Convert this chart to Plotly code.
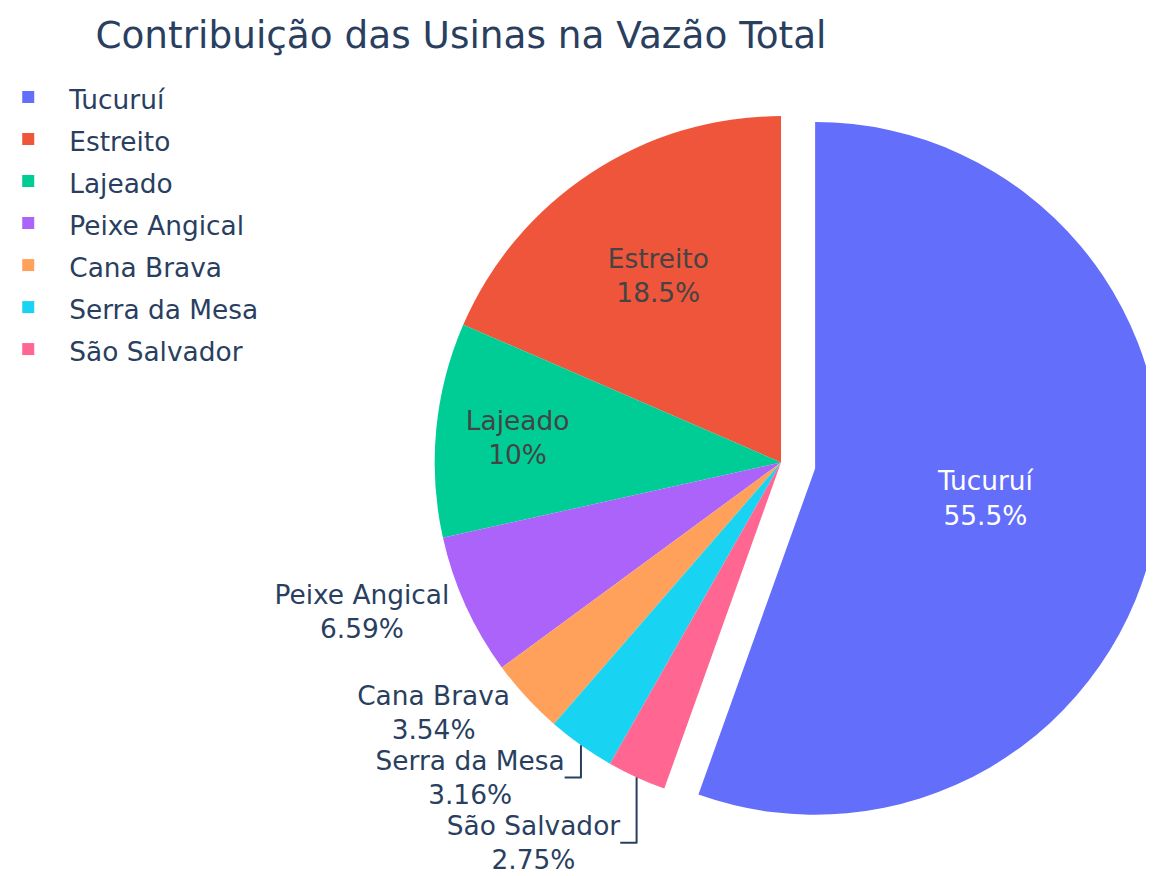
import plotly.graph_objects as go

usinas = ["Tucuruí", "Estreito", "Lajeado", "Peixe Angical", "Cana Brava", "Serra da Mesa", "São Salvador"]
vazao_pct = [55.47, 18.49, 10.00, 6.59, 3.54, 3.16, 2.75]
pull_vals = [0.1, 0, 0, 0, 0, 0, 0]
text_pos = ["inside", "inside", "inside", "outside", "outside", "outside", "outside"]

TXT = 26.4
labels = [f"<span style='font-size:{TXT}px'>{u}</span>" for u in usinas]

fig = go.Figure(go.Pie(
    labels=labels,
    values=vazao_pct,
    pull=pull_vals,
    textinfo="label+percent",
    textposition=text_pos,
    insidetextorientation="horizontal",
    domain=dict(x=[0.3397, 1.0], y=[0.0417, 0.9207]),
))

fig.update_layout(
    template="plotly",
    width=1154, height=876,
    font=dict(family="DejaVu Sans, Verdana, sans-serif", size=TXT, color="#2a3f5f"),
    title=dict(text="Contribuição das Usinas na Vazão Total", font=dict(size=37.4),
               x=0.3925, xanchor="center", xref="paper", y=0.969, yref="container", yanchor="middle"),
    legend=dict(x=-0.018, xanchor="left", y=0.928, yanchor="top", font=dict(size=30), itemwidth=72),
    margin=dict(l=0, r=0, t=0, b=0, pad=0, autoexpand=False),
    paper_bgcolor="white",
)

fig.write_html("out.html")
